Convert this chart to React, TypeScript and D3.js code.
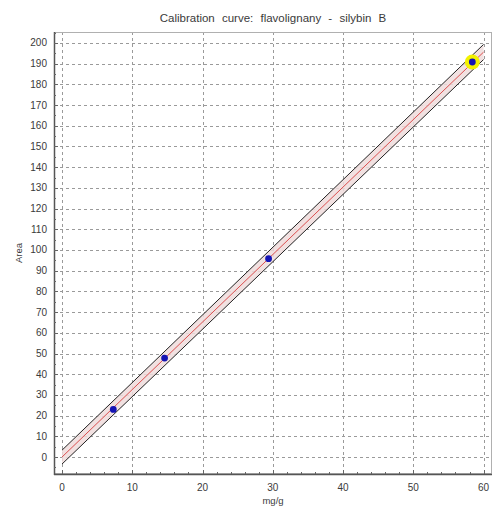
import React, { useEffect } from "react";
import * as d3 from "d3";

// calibration standards (mg/g vs peak area)
const conc = [7.3, 14.6, 29.4, 58.4];
const area = [23, 47.8, 95.8, 190.8];
// regression line and confidence limits, read at x = 0 and x = 60
const fitX = [0, 60];
const fitY = [0, 195.6];
const upperY = [3.3, 199.3];
const lowerY = [-3.4, 192.0];

const xTicks = [0, 10, 20, 30, 40, 50, 60];
const yTicks = d3.range(0, 201, 10);
const highlighted = 3;

const W = 495;
const H = 512;
const margin = { top: 32, right: 3, bottom: 38, left: 54 };

const App = () => {
    useEffect(() => {
        document.body.style.margin = "0";
    }, []);

    const x = d3.scaleLinear().domain([-1.14, 61.2]).range([margin.left, W - margin.right]);
    const y = d3.scaleLinear().domain([-8.2, 205.3]).range([H - margin.bottom, margin.top]);

    const line = d3
        .line<number>()
        .x((_, i) => x(fitX[i]))
        .y((d) => y(d));

    const band = d3
        .area<number>()
        .x((d) => x(d))
        .y0((_, i) => y(lowerY[i]))
        .y1((_, i) => y(upperY[i]));

    const x0 = margin.left;
    const x1 = W - margin.right;
    const y0 = H - margin.bottom;
    const y1 = margin.top;
    const font = "Arial, 'Liberation Sans', sans-serif";
    const txt = "#3a3a3a";

    const xMinor = d3.range(0, 61, 2).filter((v) => v % 10 !== 0);
    const yMinor = d3.range(-5, 206, 5).filter((v) => v % 10 !== 0);

    return (
        <svg width={W} height={H} style={{ display: "block", background: "#fff" }} fontFamily={font}>
            <text x={(x0 + x1) / 2} y={22} textAnchor="middle" fontSize={11.5} fill={txt} wordSpacing={4}>
                Calibration curve: flavolignany - silybin B
            </text>

            {/* grid */}
            <g stroke="#9a9a9a" strokeWidth={1} strokeDasharray="3,3">
                {yTicks.map((t) => (
                    <line key={"gy" + t} x1={x0} x2={x1} y1={Math.round(y(t)) + 0.5} y2={Math.round(y(t)) + 0.5} />
                ))}
                {xTicks.map((t) => (
                    <line key={"gx" + t} x1={Math.round(x(t)) + 0.5} x2={Math.round(x(t)) + 0.5} y1={y1} y2={y0} />
                ))}
            </g>

            {/* confidence band and fit */}
            <path d={band(fitX) || ""} fill="#efdcdc" fillOpacity={0.85} />
            <path d={line(upperY) || ""} fill="none" stroke="#222" strokeWidth={1} />
            <path d={line(lowerY) || ""} fill="none" stroke="#222" strokeWidth={1} />
            <path d={line(fitY) || ""} fill="none" stroke="#dc5050" strokeWidth={1} />

            {/* points */}
            <circle cx={x(conc[highlighted])} cy={y(area[highlighted])} r={7.5} fill="#f2f200" />
            {conc.map((c, i) => (
                <circle key={i} cx={x(c)} cy={y(area[i])} r={3.4} fill="#1414b4" />
            ))}

            {/* frame */}
            <rect x={x0 + 0.5} y={y1 + 0.5} width={x1 - x0 - 1} height={y0 - y1 - 1} fill="none" stroke="#b0b0b0" />
            <line x1={x0 + 0.5} x2={x0 + 0.5} y1={y1} y2={y0 + 1} stroke="#555" strokeWidth={1.5} />
            <line x1={x0} x2={x1} y1={y0 + 0.5} y2={y0 + 0.5} stroke="#555" strokeWidth={1.5} />

            {/* ticks */}
            <g stroke="#666" strokeWidth={1}>
                {xTicks.map((t) => (
                    <line key={"tx" + t} x1={Math.round(x(t)) + 0.5} x2={Math.round(x(t)) + 0.5} y1={y0} y2={y0 - 4} />
                ))}
                {xMinor.map((t) => (
                    <line key={"mx" + t} x1={Math.round(x(t)) + 0.5} x2={Math.round(x(t)) + 0.5} y1={y0} y2={y0 - 2} />
                ))}
                {yTicks.map((t) => (
                    <line key={"ty" + t} x1={x0} x2={x0 + 4} y1={Math.round(y(t)) + 0.5} y2={Math.round(y(t)) + 0.5} />
                ))}
                {yMinor.map((t) => (
                    <line key={"my" + t} x1={x0} x2={x0 + 2} y1={Math.round(y(t)) + 0.5} y2={Math.round(y(t)) + 0.5} />
                ))}
            </g>

            {/* tick labels */}
            <g fontSize={10} fill={txt}>
                {xTicks.map((t) => (
                    <text key={"lx" + t} x={x(t)} y={y0 + 17} textAnchor="middle">
                        {t}
                    </text>
                ))}
                {yTicks.map((t) => (
                    <text key={"ly" + t} x={x0 - 7} y={y(t) + 3.5} textAnchor="end">
                        {t}
                    </text>
                ))}
            </g>

            <text x={(x0 + x1) / 2} y={y0 + 30} textAnchor="middle" fontSize={9.5} fill={txt}>
                mg/g
            </text>
            <text
                transform={`translate(${22},${(y0 + y1) / 2}) rotate(-90)`}
                textAnchor="middle"
                fontSize={9.5}
                fill={txt}
            >
                Area
            </text>
        </svg>
    );
};

export default App;
